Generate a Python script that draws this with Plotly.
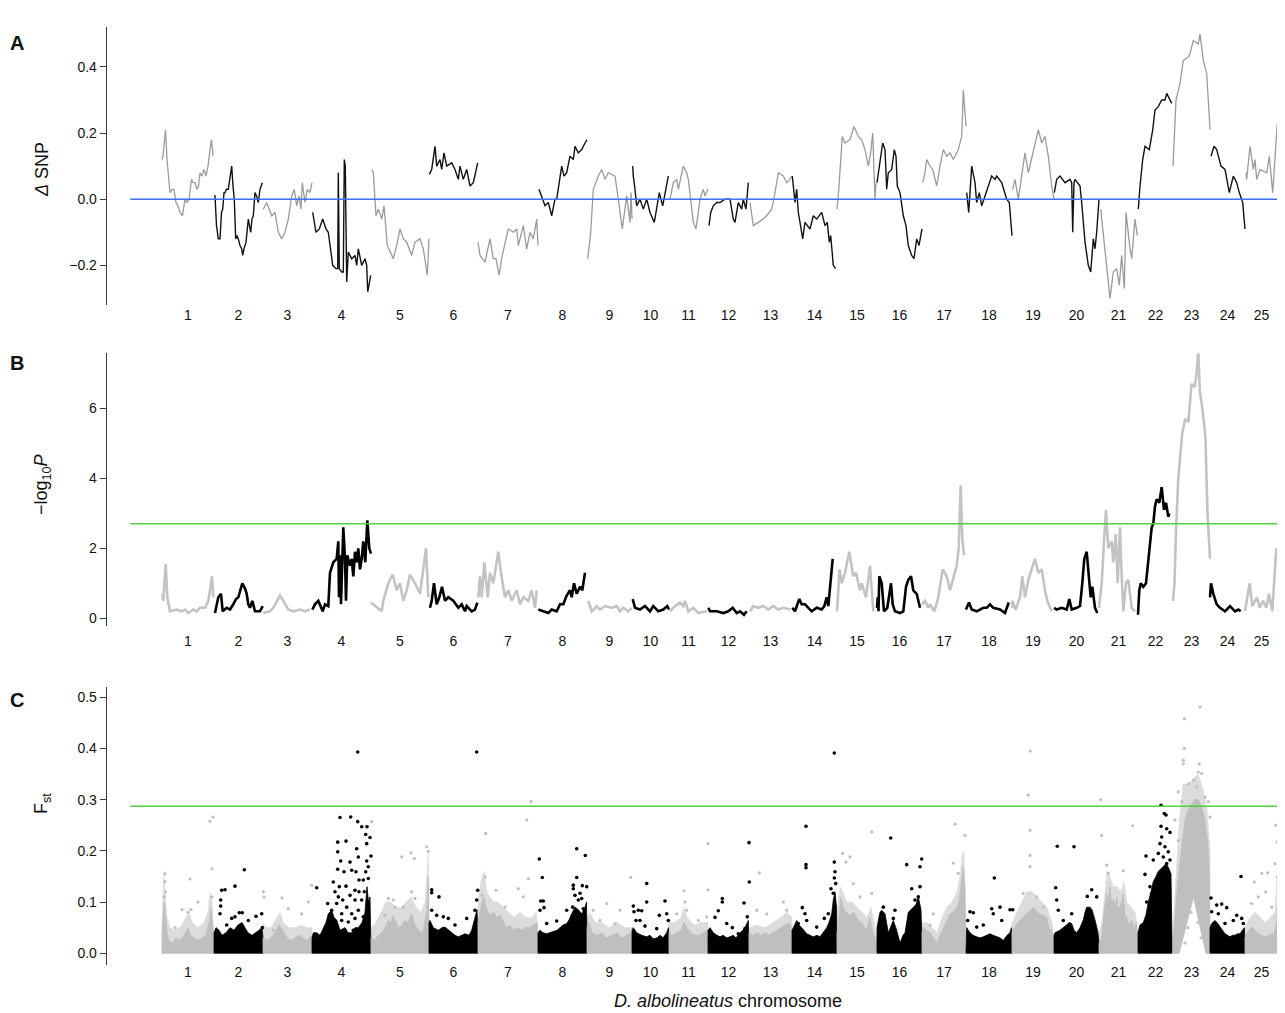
import plotly.graph_objects as go

FONT = "Liberation Sans, Arial, Helvetica, sans-serif"

# ---------------- data ----------------
chrom_labels = [str(i) for i in range(1, 26)]
chrom_len = [52, 49, 49, 59, 58, 49, 60, 49, 45, 37, 39, 41, 43, 45, 40, 45, 44, 46, 42, 45, 39, 35, 37, 35, 33]

# Panel A: delta SNP (position within chromosome, value)
dsnp_pos = [
    [0, 1, 3.5, 5, 8, 10, 12, 14, 16, 18, 20.5, 23, 25, 27, 29.5, 31, 33, 35, 36.5, 38, 40, 42, 44, 46, 48, 49.5, 51],
    [0, 1, 2.5, 4.3, 6, 7.5, 8.7, 10, 11, 12.5, 14.3, 16, 17.7, 19, 20.3, 21.7, 23, 24.3, 26, 27.7, 28.7, 30, 32, 34.3, 35.5, 36.7, 38, 39.3, 41, 42.5, 44.3, 46, 48.3],
    [0.3, 3.7, 8.7, 12, 15.3, 18.7, 22, 25.3, 28.7, 31.3, 33.7, 36, 38, 39.3, 42, 44.3, 47, 49],
    [0.7, 4, 7.3, 10.7, 14, 16.3, 20.7, 24, 25.7, 26.3, 27.3, 29.7, 31.3, 32.3, 33.3, 34.7, 36.3, 39.7, 43, 44.7, 46.3, 49.7, 53, 54.7, 55.7, 58.7],
    [0.7, 2.3, 5, 7.3, 10.7, 13, 16.3, 19, 22.3, 25.7, 29, 32.3, 35.7, 40.7, 44, 49, 52.3, 56.3, 58],
    [0.3, 2.7, 6, 7.7, 11, 12.7, 15, 17.7, 22.7, 26, 29.3, 31, 34.3, 37.7, 41, 44.3, 48.7],
    [0, 2, 7, 12, 15.3, 18, 21, 24.3, 28, 30.3, 35.3, 38.7, 40.3, 45.3, 48.7, 52, 55.3, 58.7, 60],
    [1, 3.7, 7, 10.3, 13.7, 17, 18.7, 23.7, 26, 28.7, 32, 35.3, 37, 40.3, 43.7, 47, 49],
    [0.7, 3.7, 6.3, 11.3, 14.7, 18, 21.3, 28, 31.3, 35.3, 39.7, 43, 44, 45],
    [0.7, 1.3, 3, 4.7, 8, 11.3, 14.7, 18, 22.3, 25.3, 27.3, 30.7, 33, 36.3],
    [1, 4.3, 7.7, 9.3, 14.3, 17.7, 19.3, 21.7, 24.3, 27, 31, 34.3, 36, 39],
    [1, 2.7, 5.3, 8.7, 12, 17, 22, 25.3, 27, 30.3, 33.7, 35.3, 38, 40.3],
    [1, 4.3, 9.3, 14.3, 17.7, 22.7, 26, 29.3, 34.3, 37.7, 41, 42.7],
    [0.3, 3, 4.7, 6.3, 8, 10.7, 13, 18, 21.3, 24.7, 29.7, 33, 35.3, 37.3, 38.7, 41.3, 43.7],
    [0, 1.3, 5.3, 8, 13, 17, 21.3, 24.7, 28, 31.3, 33.7, 35.7, 38, 39],
    [0, 2.3, 3.7, 5.7, 8, 9.7, 11.3, 14.7, 17.3, 19, 20.3, 23, 26.3, 29, 31.3, 34.7, 37, 39.7, 42, 45],
    [0.7, 3, 4.7, 8, 10.7, 14.7, 18, 21.3, 24.7, 28, 31.3, 36.3, 39.7, 41.3, 44],
    [0.7, 2.7, 5.7, 9, 10.7, 13.3, 15.7, 19, 22.3, 25.7, 29, 30.7, 35.7, 40.7, 43.3, 46],
    [0.7, 3, 6.3, 9.7, 13, 16.3, 23, 26.3, 29.7, 33, 36.3, 39.7, 42],
    [0.3, 2.7, 6, 11, 16, 17.7, 18.7, 20, 21, 26, 27.7, 31, 34.3, 36.7, 39.3, 41, 42.7, 45],
    [1.7, 4.3, 7.7, 11, 14.3, 17.7, 20.3, 22.7, 25.3, 27, 31, 32.7, 36, 38.3],
    [0.3, 2, 4.7, 7, 11.3, 14.7, 17, 20.3, 23.7, 27, 28.7, 33.7],
    [0, 3, 7, 10.3, 15.3, 17, 20.3, 25.3, 27, 30.3, 33.7, 37],
    [1, 4, 6.7, 11, 15, 19.3, 23.3, 26.7, 29.3, 32.7, 35],
    [1, 1.7, 5, 8.3, 10, 11.7, 15, 21.7, 24.3, 27.7, 32.3],
]
dsnp_val = [
    [0.12, 0.13, 0.21, 0.12, 0.02, 0.03, 0.03, -0.01, -0.02, -0.04, -0.05, 0.0, -0.01, 0.0, 0.06, 0.05, 0.05, 0.03, 0.04, 0.08, 0.07, 0.09, 0.07, 0.10, 0.15, 0.18, 0.13],
    [0.01, 0.01, -0.08, -0.12, -0.12, -0.04, -0.03, 0.02, 0.02, 0.03, 0.03, 0.06, 0.10, 0.04, 0.0, -0.12, -0.11, -0.12, -0.14, -0.15, -0.17, -0.15, -0.13, -0.06, -0.08, -0.10, -0.06, -0.05, 0.02, 0.01, -0.01, 0.03, 0.05],
    [-0.03, -0.01, -0.05, -0.04, -0.10, -0.12, -0.10, -0.06, 0.01, 0.03, -0.02, 0.01, -0.03, 0.05, -0.01, 0.03, 0.02, 0.05],
    [-0.04, -0.10, -0.09, -0.06, -0.09, -0.10, -0.20, -0.21, -0.21, 0.08, -0.21, -0.22, -0.22, 0.12, 0.10, -0.25, -0.16, -0.18, -0.17, -0.20, -0.15, -0.20, -0.18, -0.20, -0.28, -0.23],
    [0.09, 0.08, -0.05, -0.03, -0.06, -0.02, -0.14, -0.16, -0.18, -0.14, -0.09, -0.12, -0.13, -0.17, -0.13, -0.12, -0.15, -0.23, -0.12],
    [0.075, 0.09, 0.16, 0.10, 0.12, 0.09, 0.14, 0.10, 0.11, 0.09, 0.06, 0.10, 0.06, 0.09, 0.04, 0.05, 0.11],
    [-0.13, -0.17, -0.19, -0.12, -0.18, -0.18, -0.23, -0.17, -0.12, -0.09, -0.10, -0.09, -0.14, -0.08, -0.15, -0.10, -0.12, -0.06, -0.14],
    [0.03, 0.01, -0.02, -0.01, -0.05, 0.0, 0.0, 0.10, 0.07, 0.08, 0.13, 0.12, 0.16, 0.14, 0.15, 0.17, 0.18],
    [-0.18, -0.10, 0.03, 0.07, 0.09, 0.06, 0.08, 0.07, 0.0, -0.09, 0.01, -0.07, 0.02, -0.06],
    [0.10, 0.07, 0.03, -0.02, 0.0, -0.03, 0.0, -0.04, -0.07, -0.02, 0.02, -0.02, 0.02, 0.07],
    [0.0, 0.05, 0.06, 0.03, 0.10, 0.08, 0.06, 0.0, -0.07, -0.09, 0.0, 0.03, 0.01, 0.03],
    [-0.08, -0.04, -0.02, -0.01, -0.01, 0.0, 0.0, -0.06, -0.07, -0.01, -0.03, 0.0, -0.03, 0.05],
    [-0.01, -0.08, -0.07, -0.06, -0.05, -0.03, 0.02, 0.08, 0.07, 0.05, 0.06, 0.07],
    [0.07, -0.01, 0.03, -0.04, -0.07, -0.12, -0.07, -0.09, -0.05, -0.06, -0.04, -0.08, -0.07, -0.13, -0.11, -0.20, -0.21],
    [-0.03, 0.01, 0.19, 0.17, 0.18, 0.22, 0.19, 0.18, 0.15, 0.10, 0.14, 0.20, 0.0, 0.05],
    [0.05, 0.10, 0.12, 0.17, 0.15, 0.03, 0.08, 0.09, 0.15, 0.13, 0.04, 0.02, -0.05, -0.08, -0.14, -0.17, -0.18, -0.12, -0.14, -0.09],
    [0.05, 0.08, 0.12, 0.10, 0.09, 0.04, 0.10, 0.15, 0.13, 0.14, 0.12, 0.15, 0.19, 0.33, 0.22],
    [0.02, -0.04, 0.10, 0.05, -0.01, 0.02, -0.02, 0.01, 0.04, 0.07, 0.06, 0.07, 0.05, 0.0, -0.01, -0.11],
    [0.03, 0.06, 0.0, 0.07, 0.14, 0.08, 0.17, 0.21, 0.17, 0.19, 0.13, 0.04, 0.0],
    [0.02, 0.06, 0.07, 0.05, 0.06, 0.05, -0.10, 0.05, 0.06, 0.04, -0.01, -0.13, -0.20, -0.22, -0.12, -0.15, -0.10, 0.0],
    [-0.03, -0.10, -0.20, -0.30, -0.22, -0.21, -0.26, -0.17, -0.27, -0.04, -0.15, -0.18, -0.06, -0.11],
    [-0.03, 0.04, 0.12, 0.16, 0.15, 0.21, 0.27, 0.28, 0.30, 0.30, 0.32, 0.29],
    [0.10, 0.30, 0.35, 0.42, 0.43, 0.44, 0.48, 0.47, 0.50, 0.42, 0.38, 0.21],
    [0.13, 0.16, 0.15, 0.10, 0.09, 0.02, 0.07, 0.05, 0.02, -0.01, -0.09],
    [0.08, 0.06, 0.16, 0.09, 0.12, 0.06, 0.09, 0.08, 0.13, 0.02, 0.23],
]

# Panel B: -log10 P
logp_pos = [
    [0.3, 1.3, 3.7, 5.3, 8, 14.7, 19.7, 23, 26.3, 31.3, 34.7, 38, 43, 46.3, 48, 50, 51.3],
    [1, 2.7, 4.3, 7, 8.7, 12.7, 16, 19.3, 22, 24.3, 28.3, 31, 32.7, 34.3, 36, 38.3, 41, 46, 48.7],
    [0.3, 7, 10.3, 17, 20.3, 25.3, 30.3, 37, 42, 47],
    [0.3, 3, 6.3, 8.7, 10.7, 13, 16.3, 18, 21.3, 24.7, 26.3, 27, 28, 29, 30.3, 31.3, 33, 34, 35.3, 38, 39.7, 41.3, 43, 44.7, 46.3, 48, 49.7, 51.3, 53.3, 55.3, 57.3, 59],
    [0, 4, 10.7, 12.3, 17.3, 21.7, 25.7, 29, 32.3, 35.7, 39, 44, 49, 55, 57.3],
    [1, 2.7, 5, 7.7, 10.3, 13, 16, 19.3, 24.3, 29.3, 32.7, 36, 37.7, 42.7, 46, 48.3],
    [0.3, 2, 3.7, 6.3, 9.7, 12, 15.3, 20.3, 23, 27, 30.3, 33.7, 38.7, 42, 45.3, 50.3, 53.7, 57, 58.7],
    [0.3, 5.3, 10.3, 13.7, 18.7, 22, 25.3, 28.7, 32, 33.7, 36, 38.7, 42, 44.3, 47],
    [1.3, 4.7, 9.7, 13, 18, 24.7, 29.7, 33, 36.3, 41.3, 44.7],
    [0.7, 3, 8, 13, 18, 21.3, 26.3, 31.3, 35.3, 37],
    [1, 4.3, 11, 14.3, 16, 19.3, 24.3, 29.3, 37.7],
    [0.3, 2, 8.7, 15.3, 20.3, 24.7, 28.7, 32, 36, 38.7],
    [1, 4.3, 9.3, 14.3, 19.3, 24.3, 29.3, 34.3, 41],
    [0.3, 3, 7.3, 9.7, 13, 16.3, 19.7, 24.7, 29.7, 32.3, 34.7, 36.3, 38.7, 40.7],
    [0, 1, 2.5, 4.7, 8, 12.3, 16.3, 19, 23, 24.7, 29, 33, 36.3],
    [0, 0.7, 1.5, 2.3, 4.7, 7, 10.3, 14, 15.7, 18, 23, 26.3, 29, 31.3, 34, 36.3, 39.7, 43],
    [0, 3, 6.3, 8, 12.3, 16.3, 20.7, 24.7, 28, 29.7, 34.7, 36.7, 38.7, 40.3, 42],
    [0, 0.7, 3, 5.7, 10.7, 17.3, 20.7, 24, 27.3, 34, 39, 42.7],
    [0, 0.3, 3.7, 8, 10.3, 13, 16.3, 19.7, 23, 26.3, 29.7, 33, 35.3, 39.7],
    [0, 2.7, 7.7, 12.7, 15.3, 17.7, 22.7, 26, 28.3, 30.3, 32.7, 35, 36.7, 38.3, 41, 43.3],
    [0, 2.7, 5, 7, 9.3, 12.7, 14.3, 16.7, 18.7, 21, 22.7, 24.3, 27, 29.3, 32.7, 36],
    [0, 0.5, 1.3, 2.7, 5.3, 8, 10.3, 12, 13.7, 15.3, 17, 18.7, 21.3, 23.7, 26, 28, 30.3, 31.3],
    [0, 1.5, 3, 5.3, 9.3, 12.3, 15.4, 18.5, 21.6, 23.1, 25.3, 26.8, 29.3, 32.4, 34.5, 37],
    [0, 1, 3.3, 6.7, 10, 15, 20, 25, 28.3, 30.7],
    [0, 2.3, 4.7, 7.3, 12, 14.7, 18, 21.3, 24, 27.3, 31.3],
]
logp_val = [
    [0.7, 0.5, 1.55, 0.6, 0.2, 0.25, 0.2, 0.25, 0.15, 0.25, 0.2, 0.3, 0.3, 0.5, 0.8, 1.2, 0.6],
    [0.15, 0.4, 0.6, 0.7, 0.2, 0.3, 0.25, 0.4, 0.55, 0.6, 1.0, 0.85, 0.7, 0.4, 0.3, 0.5, 0.2, 0.2, 0.35],
    [0.15, 0.2, 0.3, 0.65, 0.5, 0.25, 0.2, 0.25, 0.2, 0.25],
    [0.25, 0.4, 0.5, 0.35, 0.2, 0.4, 0.35, 1.3, 1.6, 1.7, 2.2, 0.6, 1.8, 0.4, 1.9, 2.6, 1.7, 0.5, 1.8, 1.5, 1.7, 1.2, 1.9, 1.6, 2.0, 1.4, 1.7, 2.2, 1.6, 2.8, 2.0, 1.85],
    [0.45, 0.35, 0.2, 0.5, 1.0, 1.25, 0.8, 1.0, 0.5, 0.8, 1.25, 1.0, 0.7, 2.0, 0.6],
    [0.3, 0.5, 1.0, 0.4, 0.6, 0.9, 0.5, 0.6, 0.5, 0.3, 0.4, 0.2, 0.35, 0.2, 0.25, 0.45],
    [0.6, 1.2, 0.6, 1.6, 0.6, 1.3, 1.0, 1.9, 1.3, 0.6, 0.8, 0.5, 0.8, 0.4, 0.6, 0.5, 0.8, 0.3, 0.8],
    [0.25, 0.2, 0.15, 0.25, 0.2, 0.4, 0.4, 0.65, 0.8, 0.6, 1.0, 0.7, 0.9, 0.8, 1.3],
    [0.5, 0.2, 0.35, 0.25, 0.35, 0.3, 0.35, 0.2, 0.3, 0.2, 0.3],
    [0.55, 0.3, 0.25, 0.35, 0.2, 0.35, 0.2, 0.25, 0.35, 0.25],
    [0.2, 0.3, 0.45, 0.35, 0.5, 0.2, 0.3, 0.15, 0.2],
    [0.3, 0.2, 0.2, 0.15, 0.2, 0.3, 0.15, 0.2, 0.1, 0.2],
    [0.2, 0.35, 0.3, 0.35, 0.25, 0.35, 0.25, 0.3, 0.25],
    [0.3, 0.2, 0.55, 0.4, 0.4, 0.3, 0.2, 0.3, 0.25, 0.35, 0.6, 0.35, 1.2, 1.7],
    [0.2, 0.6, 1.4, 1.0, 1.3, 1.9, 1.2, 1.3, 0.8, 1.0, 0.6, 1.5, 0.2],
    [0.3, 0.6, 0.2, 1.2, 1.0, 0.2, 0.3, 1.0, 0.4, 0.2, 0.15, 0.2, 0.9, 1.1, 1.2, 0.8, 0.7, 0.3],
    [0.4, 0.5, 0.3, 0.4, 0.2, 0.6, 1.4, 1.2, 0.8, 1.0, 1.5, 2.0, 3.8, 2.3, 1.8],
    [0.25, 0.3, 0.45, 0.25, 0.2, 0.3, 0.3, 0.4, 0.3, 0.25, 0.15, 0.45],
    [0.3, 0.5, 0.25, 0.6, 1.2, 0.6, 1.1, 1.4, 1.7, 1.3, 1.4, 0.8, 0.5, 0.2],
    [0.3, 0.25, 0.3, 0.25, 0.55, 0.25, 0.3, 0.35, 1.0, 1.7, 1.9, 1.2, 0.6, 0.9, 0.3, 0.15],
    [0.3, 1.0, 2.2, 3.1, 2.0, 2.2, 1.6, 2.4, 1.0, 2.6, 1.2, 0.2, 1.0, 1.1, 0.3, 0.2],
    [0.1, 0.3, 0.8, 1.0, 0.9, 1.0, 1.7, 2.1, 2.6, 2.7, 3.2, 3.4, 3.3, 3.75, 3.1, 3.3, 2.9, 3.0],
    [0.5, 1.0, 2.5, 4.0, 5.3, 5.7, 5.6, 6.7, 6.6, 6.9, 7.6, 6.5, 6.0, 5.2, 3.0, 1.7],
    [0.6, 1.0, 0.7, 0.4, 0.3, 0.2, 0.35, 0.2, 0.25, 0.2],
    [0.2, 0.6, 1.0, 0.35, 0.6, 0.3, 0.5, 0.3, 0.7, 0.2, 2.0],
]

# Panel C: Fst - upper edge of the dense SNP cloud per chromosome
fst_core_pos = [
    [0, 1, 2, 3, 4, 5, 7, 10, 14, 18, 22, 26, 28, 32, 36, 40, 44, 47, 49, 51, 52],
    [0, 2, 5, 8, 12, 16, 20, 24, 28, 31, 34, 38, 42, 45, 48, 49],
    [0, 4, 8, 12, 16, 20, 24, 28, 32, 36, 40, 44, 48, 49],
    [0, 1.3, 4.7, 8, 11.3, 14, 16.3, 19.7, 22, 24.7, 28, 33, 36, 39.7, 43, 46.3, 50, 53, 55, 56.5, 58, 59],
    [0, 4, 7, 10.7, 14, 17.3, 20, 22.3, 25, 27.3, 31, 34, 37, 40.7, 43, 45.7, 48, 50.7, 53, 55.7, 56.5, 57.5, 58],
    [0, 1, 4.3, 9.3, 13, 16, 20, 22.7, 26, 29.3, 33, 36, 40, 42.7, 46, 48, 49],
    [0, 2, 4, 6, 8, 10, 13, 16, 19, 22, 25, 28, 32, 36, 40, 44, 48, 52, 56, 59, 60],
    [0, 2, 5, 8.7, 12, 15.3, 19, 22, 25, 28.7, 31, 33.7, 37, 40.3, 43.7, 47, 48.5, 49],
    [0, 2, 5, 10, 15, 20, 25, 30, 35, 40, 44, 45],
    [0, 1.3, 4.7, 9.7, 14.7, 18, 21.3, 25, 28, 31, 34.7, 36.5, 37],
    [0, 4, 8, 12, 15, 18, 22, 26, 30, 34, 38, 39],
    [0, 2, 5.3, 9, 12, 15, 18.7, 22, 25.3, 28, 32, 35, 37, 40.3, 41],
    [0, 4, 8, 12, 16, 20, 24, 28, 32, 36, 40, 42, 43],
    [0, 1.3, 4.7, 7, 9.7, 14.7, 18, 21.3, 25, 28, 31, 34.7, 37, 39.7, 41.3, 43, 44.5, 45],
    [0, 2, 4, 6, 9, 13, 17, 21, 25, 29, 33, 36, 38, 40],
    [0, 1.3, 3, 4.7, 8, 11.3, 14, 16.3, 19.7, 23, 26, 28, 31.3, 34, 36.3, 39, 41.3, 44, 45],
    [0, 1.3, 4, 8, 11, 14.7, 18, 21.3, 25, 28, 31, 34.7, 37, 39.7, 41.3, 43, 44],
    [0, 0.7, 4, 7, 10.7, 14, 17.3, 21, 24, 27, 30.7, 34, 37.3, 41, 44, 45.5, 46],
    [0, 1.3, 4, 8, 11, 14.7, 18, 21.3, 25, 28, 31, 34.7, 37, 39.7, 41.5],
    [0, 1, 6, 9, 12.7, 15, 17.7, 20, 22.7, 26, 29.3, 31, 32.7, 36, 38, 41, 44, 45],
    [0, 2.7, 5, 7.7, 9, 11, 12.5, 14.3, 16, 17.7, 19, 21, 22.5, 24.3, 26, 27.7, 30, 32.7, 35, 37.7, 38.5],
    [0, 2, 5.3, 8, 10.3, 13, 15.3, 18, 20.3, 23, 25.3, 28, 30.3, 33, 34],
    [0, 1.7, 5, 8.7, 12, 15.3, 18.7, 22, 25.3, 28.7, 32, 34.7, 36.3, 37],
    [0, 1.7, 5, 7, 10, 12.5, 15, 17.5, 20, 22.5, 25, 27.5, 30, 32.5, 34.3, 35],
    [0, 1.7, 4, 6.7, 10, 13.3, 16.5, 20, 23.5, 26.7, 29.5, 31.7, 32.7, 33],
]
fst_core_top = [
    [0.03, 0.07, 0.10, 0.09, 0.06, 0.04, 0.025, 0.02, 0.03, 0.025, 0.035, 0.05, 0.035, 0.03, 0.025, 0.03, 0.035, 0.06, 0.09, 0.05, 0.02],
    [0.04, 0.05, 0.045, 0.035, 0.04, 0.05, 0.045, 0.055, 0.06, 0.05, 0.04, 0.035, 0.04, 0.045, 0.05, 0.03],
    [0.03, 0.025, 0.03, 0.04, 0.055, 0.045, 0.03, 0.025, 0.03, 0.035, 0.03, 0.025, 0.035, 0.03],
    [0.03, 0.04, 0.04, 0.035, 0.05, 0.06, 0.077, 0.084, 0.07, 0.065, 0.045, 0.05, 0.04, 0.04, 0.05, 0.05, 0.06, 0.08, 0.13, 0.10, 0.11, 0.03],
    [0.03, 0.025, 0.035, 0.04, 0.05, 0.064, 0.06, 0.074, 0.06, 0.05, 0.055, 0.064, 0.06, 0.077, 0.06, 0.05, 0.045, 0.04, 0.05, 0.084, 0.12, 0.15, 0.04],
    [0.06, 0.064, 0.05, 0.045, 0.05, 0.051, 0.045, 0.04, 0.035, 0.032, 0.035, 0.038, 0.035, 0.045, 0.07, 0.085, 0.03],
    [0.06, 0.08, 0.1, 0.11, 0.09, 0.08, 0.075, 0.08, 0.07, 0.075, 0.065, 0.05, 0.055, 0.045, 0.05, 0.045, 0.05, 0.05, 0.055, 0.06, 0.03],
    [0.04, 0.045, 0.04, 0.038, 0.04, 0.042, 0.045, 0.05, 0.055, 0.058, 0.065, 0.077, 0.09, 0.085, 0.077, 0.09, 0.1, 0.03],
    [0.05, 0.06, 0.04, 0.035, 0.04, 0.03, 0.035, 0.04, 0.03, 0.035, 0.04, 0.02],
    [0.045, 0.05, 0.04, 0.035, 0.032, 0.035, 0.028, 0.03, 0.035, 0.03, 0.04, 0.05, 0.02],
    [0.04, 0.035, 0.04, 0.045, 0.06, 0.05, 0.04, 0.035, 0.035, 0.04, 0.045, 0.02],
    [0.045, 0.05, 0.04, 0.035, 0.032, 0.035, 0.03, 0.032, 0.035, 0.03, 0.04, 0.045, 0.05, 0.064, 0.02],
    [0.04, 0.035, 0.04, 0.035, 0.04, 0.035, 0.04, 0.045, 0.05, 0.055, 0.06, 0.05, 0.02],
    [0.045, 0.05, 0.064, 0.055, 0.05, 0.038, 0.035, 0.032, 0.035, 0.032, 0.04, 0.05, 0.06, 0.077, 0.104, 0.12, 0.09, 0.02],
    [0.04, 0.07, 0.11, 0.09, 0.08, 0.075, 0.08, 0.065, 0.06, 0.045, 0.07, 0.04, 0.03, 0.02],
    [0.05, 0.064, 0.08, 0.084, 0.077, 0.04, 0.055, 0.064, 0.045, 0.02, 0.035, 0.04, 0.08, 0.085, 0.09, 0.095, 0.11, 0.085, 0.02],
    [0.04, 0.05, 0.045, 0.04, 0.03, 0.02, 0.035, 0.05, 0.065, 0.077, 0.08, 0.09, 0.1, 0.143, 0.17, 0.13, 0.02],
    [0.045, 0.05, 0.04, 0.035, 0.032, 0.03, 0.032, 0.035, 0.038, 0.035, 0.032, 0.03, 0.025, 0.035, 0.04, 0.05, 0.02],
    [0.04, 0.045, 0.055, 0.064, 0.07, 0.077, 0.085, 0.09, 0.08, 0.077, 0.075, 0.07, 0.05, 0.045, 0.02],
    [0.035, 0.04, 0.045, 0.05, 0.055, 0.06, 0.058, 0.045, 0.04, 0.05, 0.065, 0.08, 0.09, 0.09, 0.085, 0.065, 0.04, 0.02],
    [0.02, 0.03, 0.08, 0.117, 0.1, 0.13, 0.1, 0.105, 0.09, 0.11, 0.09, 0.09, 0.1, 0.115, 0.075, 0.07, 0.055, 0.065, 0.05, 0.06, 0.02],
    [0.04, 0.055, 0.06, 0.075, 0.1, 0.12, 0.14, 0.15, 0.16, 0.165, 0.17, 0.175, 0.168, 0.155, 0.02],
    [0.02, 0.064, 0.143, 0.208, 0.26, 0.28, 0.292, 0.3, 0.3, 0.286, 0.26, 0.22, 0.162, 0.02],
    [0.05, 0.058, 0.064, 0.06, 0.052, 0.045, 0.038, 0.035, 0.032, 0.035, 0.035, 0.038, 0.038, 0.045, 0.05, 0.02],
    [0.03, 0.038, 0.045, 0.051, 0.045, 0.038, 0.035, 0.032, 0.035, 0.038, 0.04, 0.064, 0.11, 0.02],
]
# Panel C: upper edge of the sparser speckled zone (grey chromosomes only)
fst_halo_pos = [
    [0, 1, 2, 3, 5, 8, 12, 18, 24, 27, 30, 36, 42, 46, 48, 50, 52],
    [],
    [0, 3, 8, 14, 17, 20, 26, 32, 38, 44, 49],
    [],
    [0, 5, 10, 15, 20, 25, 30, 35, 40, 45, 50, 54, 56, 57.5, 58],
    [],
    [0, 3, 6, 9, 12, 16, 20, 25, 30, 36, 42, 48, 54, 58, 60],
    [],
    [0, 3, 8, 15, 22, 30, 38, 45],
    [],
    [0, 6, 12, 15, 18, 25, 32, 39],
    [],
    [0, 8, 16, 24, 32, 38, 43],
    [],
    [0, 3, 6, 10, 15, 20, 25, 30, 34, 38, 40],
    [],
    [0, 5, 10, 15, 20, 25, 30, 35, 38, 40, 42, 44],
    [],
    [0, 5, 10, 15, 20, 25, 30, 35, 40, 42],
    [],
    [0, 3, 6, 8, 11, 14, 18, 22, 25, 28, 32, 36, 39],
    [],
    [0, 3, 6, 10, 15, 20, 25, 30, 34, 37],
    [],
    [0, 5, 10, 15, 20, 25, 30, 32, 33],
]
fst_halo_top = [
    [0.05, 0.12, 0.16, 0.12, 0.07, 0.05, 0.045, 0.05, 0.07, 0.08, 0.06, 0.05, 0.06, 0.08, 0.12, 0.1, 0.03],
    [],
    [0.06, 0.05, 0.05, 0.07, 0.08, 0.06, 0.05, 0.05, 0.055, 0.05, 0.05],
    [],
    [0.05, 0.06, 0.08, 0.1, 0.1, 0.09, 0.09, 0.1, 0.11, 0.09, 0.08, 0.1, 0.16, 0.2, 0.05],
    [],
    [0.1, 0.14, 0.16, 0.12, 0.11, 0.1, 0.1, 0.09, 0.08, 0.07, 0.08, 0.07, 0.07, 0.08, 0.05],
    [],
    [0.07, 0.08, 0.06, 0.06, 0.05, 0.06, 0.05, 0.05],
    [],
    [0.06, 0.06, 0.07, 0.09, 0.07, 0.055, 0.06, 0.06],
    [],
    [0.05, 0.055, 0.05, 0.06, 0.07, 0.08, 0.07],
    [],
    [0.08, 0.13, 0.12, 0.1, 0.1, 0.09, 0.08, 0.07, 0.09, 0.05, 0.03],
    [],
    [0.06, 0.06, 0.05, 0.04, 0.07, 0.09, 0.1, 0.12, 0.15, 0.19, 0.2, 0.04],
    [],
    [0.06, 0.08, 0.1, 0.12, 0.12, 0.11, 0.1, 0.09, 0.06, 0.03],
    [],
    [0.04, 0.06, 0.13, 0.16, 0.15, 0.13, 0.13, 0.12, 0.14, 0.1, 0.09, 0.08, 0.04],
    [],
    [0.05, 0.15, 0.25, 0.33, 0.33, 0.34, 0.35, 0.32, 0.28, 0.2],
    [],
    [0.05, 0.07, 0.08, 0.07, 0.06, 0.07, 0.08, 0.15, 0.05],
]
# empty V-shaped region at the base of chromosome 23's cloud
fst_gap_chrom = 23
fst_gap_pos = [33, 20.5, 6]
fst_gap_val = [0.0, 0.11, 0.0]

# Panel C: individual SNPs standing above the cloud
fst_out_pos = [
    [3, 3, 3.5, 2.5, 28, 26, 29, 20, 13, 48, 51, 50, 50, 36],
    [7.7, 11, 21, 30.3, 6.7, 6.7, 6, 17.7, 25.3, 28.3, 42, 47.7, 48.3, 21, 12.7, 34.3],
    [0.3, 1, 19, 25.3, 38.7, 45.3, 48.7, 10.3],
    [28, 38.7, 45.7, 49.7, 55, 53.7, 58, 25.7, 34, 25.7, 44.7, 54.7, 59, 28.7, 38, 46.3, 54.7, 25.7, 32, 39.7, 44, 53.7, 56.3, 47, 51.3, 56.3, 21.3, 4.7, 27.3, 34, 43, 23, 26.3, 30.7, 38, 47, 52.3, 24.7, 34.7, 43, 49.7, 15.7, 19.7, 29.7, 39.7, 46.3, 29.7, 36.3, 43, 51.3, 33, 41.3, 48, 45.7],
    [0.7, 30.7, 40, 43.3, 57.3, 55.7, 17.3, 22.3, 24, 14, 40.7, 44, 32.3],
    [2.7, 2.7, 10, 2.7, 14.3, 19.3, 37.7, 46, 47.7, 48.7, 26, 7.7, 47.7],
    [7.7, 7, 3.7, 18, 27, 40.3, 48.7, 53, 50.3, 45.3],
    [1.3, 4.3, 2.7, 5.3, 6, 2, 8.7, 18.7, 38.7, 47.3, 38.7, 35.3, 35.3, 44.3, 48.7, 37, 43.7, 42, 40.3, 45.3, 34.7, 28.7, 33.7, 40.3],
    [6.3, 19.7, 33, 43.7, 13, 28],
    [14.7, 14.7, 33, 1.3, 2, 6.3, 9.7, 13, 24.7, 27.3, 34.7, 36.3, 4, 8],
    [15, 16, 17.7, 7.7, 37.7, 29.3, 39, 39],
    [41, 41.3, 14.3, 14.3, 10.3, 7, 36, 39.3, 37, 18.7, 24.3, 30.3],
    [10.3, 7.7, 17.7, 34.3, 37.7],
    [14, 14, 14, 42.3, 43, 42.3, 43.7, 39, 41.3, 10.3, 13, 36.3, 32.3, 14.7, 6.3, 24.7, 42.3],
    [34.7, 13, 16.3, 23, 34.7, 5.7, 9],
    [13.7, 29.7, 44.7, 43, 34.7, 43, 6.3, 18, 16.3, 38, 41.3],
    [33, 43, 31.3, 36.3, 8, 11.3],
    [28.3, 4, 7.3, 1.7, 10.7, 25.7, 34, 44, 46.7, 27.3, 17.3, 35.7],
    [18.3, 16.3, 18, 18, 18, 11.3, 24.7, 31.3],
    [3.3, 20, 1.7, 2.7, 4.3, 37.7, 42.7, 33.3, 17.7, 9.3],
    [1.7, 7.7, 9.3, 24.3, 33.7, 2.7],
    [23, 26.3, 28, 23, 28.7, 32, 23.7, 22, 27, 30.3, 8, 7, 15.3, 20.3, 12, 8.7, 13.7, 25.3, 28.7, 32],
    [11.3, 10.3, 10.3, 26.3, 25.3, 28.7, 20.7, 15.7, 24, 5.3, 32, 8.7, 35.3, 37, 2, 5.3, 27, 11.3, 15, 18, 25, 28, 12],
    [31, 1, 6.7, 11.7, 16.7, 1.7, 8.3, 26.7, 31.7, 33.3, 23.3, 15],
    [30.7, 30, 32.3, 32.3, 9.3, 16.7, 22.7, 20.7, 13.3, 6.7, 26.7],
]
fst_out_val = [
    [0.155, 0.14, 0.12, 0.11, 0.145, 0.08, 0.085, 0.085, 0.05, 0.258, 0.266, 0.165, 0.11, 0.1],
    [0.123, 0.124, 0.131, 0.163, 0.104, 0.092, 0.077, 0.068, 0.079, 0.079, 0.072, 0.077, 0.05, 0.071, 0.055, 0.064],
    [0.12, 0.11, 0.108, 0.087, 0.077, 0.1, 0.133, 0.045],
    [0.265, 0.266, 0.257, 0.247, 0.247, 0.232, 0.226, 0.217, 0.219, 0.198, 0.204, 0.214, 0.19, 0.18, 0.178, 0.188, 0.18, 0.164, 0.159, 0.162, 0.159, 0.159, 0.169, 0.143, 0.143, 0.146, 0.139, 0.128, 0.13, 0.131, 0.123, 0.12, 0.11, 0.104, 0.113, 0.12, 0.12, 0.097, 0.09, 0.104, 0.104, 0.097, 0.084, 0.077, 0.077, 0.084, 0.064, 0.061, 0.068, 0.071, 0.045, 0.045, 0.042, 0.393],
    [0.257, 0.188, 0.196, 0.185, 0.199, 0.208, 0.107, 0.104, 0.09, 0.074, 0.12, 0.107, 0.09],
    [0.124, 0.118, 0.11, 0.084, 0.071, 0.068, 0.068, 0.084, 0.104, 0.123, 0.055, 0.074, 0.393],
    [0.234, 0.149, 0.113, 0.123, 0.09, 0.126, 0.26, 0.296, 0.146, 0.11],
    [0.184, 0.148, 0.102, 0.102, 0.089, 0.084, 0.058, 0.063, 0.204, 0.191, 0.148, 0.133, 0.126, 0.132, 0.13, 0.113, 0.107, 0.117, 0.104, 0.087, 0.09, 0.084, 0.071, 0.074],
    [0.084, 0.097, 0.084, 0.148, 0.064, 0.058],
    [0.136, 0.1, 0.102, 0.092, 0.081, 0.084, 0.083, 0.053, 0.048, 0.074, 0.077, 0.064, 0.064, 0.064],
    [0.122, 0.1, 0.084, 0.077, 0.071, 0.064, 0.214, 0.124],
    [0.216, 0.139, 0.107, 0.1, 0.083, 0.07, 0.098, 0.071, 0.048, 0.058, 0.05, 0.038],
    [0.157, 0.084, 0.077, 0.1, 0.084],
    [0.248, 0.173, 0.167, 0.178, 0.159, 0.147, 0.136, 0.126, 0.117, 0.089, 0.077, 0.077, 0.068, 0.064, 0.058, 0.051, 0.391],
    [0.237, 0.188, 0.136, 0.11, 0.117, 0.195, 0.178],
    [0.225, 0.173, 0.184, 0.169, 0.126, 0.13, 0.09, 0.084, 0.068, 0.104, 0.11],
    [0.252, 0.23, 0.176, 0.156, 0.055, 0.077],
    [0.147, 0.081, 0.079, 0.064, 0.051, 0.087, 0.09, 0.085, 0.085, 0.077, 0.055, 0.064],
    [0.395, 0.309, 0.24, 0.191, 0.169, 0.117, 0.11, 0.09],
    [0.209, 0.208, 0.128, 0.104, 0.084, 0.124, 0.11, 0.111, 0.077, 0.064],
    [0.3, 0.172, 0.156, 0.161, 0.249, 0.23],
    [0.289, 0.273, 0.27, 0.248, 0.243, 0.236, 0.227, 0.214, 0.208, 0.198, 0.19, 0.154, 0.182, 0.195, 0.13, 0.1, 0.117, 0.188, 0.175, 0.182],
    [0.4, 0.377, 0.37, 0.37, 0.354, 0.351, 0.338, 0.331, 0.325, 0.315, 0.305, 0.296, 0.296, 0.266, 0.26, 0.22, 0.481, 0.458, 0.05, 0.08, 0.06, 0.03, 0.02],
    [0.15, 0.108, 0.094, 0.096, 0.089, 0.081, 0.077, 0.074, 0.068, 0.058, 0.064, 0.058],
    [0.25, 0.175, 0.217, 0.149, 0.139, 0.156, 0.157, 0.12, 0.11, 0.097, 0.09],
]

dsnp_ref = 0.0
logp_threshold = 2.7
fst_threshold = 0.287

# ---------------- geometry helpers ----------------
starts = []
acc = 0.0
for L in chrom_len:
    starts.append(acc)
    acc += L
genome_end = acc
mids = [s + L / 2.0 for s, L in zip(starts, chrom_len)]

GRAY_A, BLACK_A = "#9b9b9b", "#111111"
GRAY_B, BLACK_B = "#c3c3c3", "#000000"
GRAY_C, BLACK_C = "#bfbfbf", "#000000"
HALO_C = "#dcdcdc"

fig = go.Figure()

# Panel A
for i in range(25):
    black = (i % 2 == 1)
    fig.add_trace(go.Scatter(
        x=[starts[i] + p for p in dsnp_pos[i]], y=dsnp_val[i], mode="lines",
        line=dict(color=BLACK_A if black else GRAY_A, width=1.4 if black else 1.3),
        xaxis="x", yaxis="y", hoverinfo="skip", showlegend=False))

# Panel B
for i in range(25):
    black = (i % 2 == 1)
    fig.add_trace(go.Scatter(
        x=[starts[i] + p for p in logp_pos[i]], y=logp_val[i], mode="lines",
        line=dict(color=BLACK_B if black else GRAY_B, width=2.6),
        xaxis="x2", yaxis="y2", hoverinfo="skip", showlegend=False))


def cloud_polygon(i, pos, top):
    xs = [starts[i] + p for p in pos]
    px = [xs[0]] + xs + [xs[-1]]
    py = [0.0] + list(top) + [0.0]
    if i + 1 == fst_gap_chrom:
        px += [starts[i] + p for p in fst_gap_pos]
        py += list(fst_gap_val)
    px.append(xs[0])
    py.append(0.0)
    return px, py


# Panel C: speckled zones (grey chromosomes)
for i in range(25):
    if not fst_halo_pos[i]:
        continue
    px, py = cloud_polygon(i, fst_halo_pos[i], fst_halo_top[i])
    fig.add_trace(go.Scatter(
        x=px, y=py, mode="lines", fill="toself", fillcolor=HALO_C,
        line=dict(color=HALO_C, width=0.6),
        xaxis="x3", yaxis="y3", hoverinfo="skip", showlegend=False))

# Panel C: dense clouds
for i in range(25):
    black = (i % 2 == 1)
    px, py = cloud_polygon(i, fst_core_pos[i], fst_core_top[i])
    col = BLACK_C if black else GRAY_C
    fig.add_trace(go.Scatter(
        x=px, y=py, mode="lines", fill="toself", fillcolor=col,
        line=dict(color=col, width=0.8),
        xaxis="x3", yaxis="y3", hoverinfo="skip", showlegend=False))

# Panel C: individual points
for parity, col, size in ((0, GRAY_C, 3.2), (1, BLACK_C, 3.6)):
    ox, oy = [], []
    for i in range(25):
        if i % 2 != parity:
            continue
        ox += [starts[i] + p for p in fst_out_pos[i]]
        oy += fst_out_val[i]
    fig.add_trace(go.Scatter(
        x=ox, y=oy, mode="markers",
        marker=dict(color=col, size=size, line=dict(width=0)),
        xaxis="x3", yaxis="y3", hoverinfo="skip", showlegend=False))

# reference lines
line_start = 0.02
fig.add_shape(type="line", xref="x domain", yref="y", x0=line_start, x1=1,
              y0=dsnp_ref, y1=dsnp_ref, line=dict(color="#3f6ff0", width=1.6))
fig.add_shape(type="line", xref="x2 domain", yref="y2", x0=line_start, x1=1,
              y0=logp_threshold, y1=logp_threshold, line=dict(color="#4fd23c", width=1.6))
fig.add_shape(type="line", xref="x3 domain", yref="y3", x0=line_start, x1=1,
              y0=fst_threshold, y1=fst_threshold, line=dict(color="#4fd23c", width=1.6))

# ---------------- layout ----------------
# the page body has an 8px margin; the figure is sized so that it fills the window exactly
OFF = 8.0
FW, FH = 1285 - OFF, 1013 - OFF

def fx(px):
    return (px - OFF) / FW

def fy(py):
    return 1 - (py - OFF) / FH

x_dom = [fx(106.7), 1.0]
x_range = [-55.3, genome_end + 7]

def xaxis(pos):
    return dict(domain=x_dom, range=x_range, tickmode="array", tickvals=mids,
                ticktext=chrom_labels, showline=False, ticks="", showgrid=False,
                zeroline=False, anchor="free", position=pos,
                tickfont=dict(size=14, color="#111111", family=FONT))

def yaxis(dom, rng, tv, fmt, anchor):
    return dict(domain=dom, range=rng, tickmode="array", tickvals=tv, tickformat=fmt,
                showline=True, linecolor="#3a3a3a", linewidth=1, ticks="outside",
                ticklen=6, tickcolor="#3a3a3a", tickwidth=1, showgrid=False,
                zeroline=False, anchor=anchor,
                tickfont=dict(size=14, color="#111111", family=FONT))

fig.update_layout(
    width=FW, height=FH,
    margin=dict(l=0, r=0, t=0, b=0),
    paper_bgcolor="white", plot_bgcolor="white",
    font=dict(family=FONT, color="#111111"),
    showlegend=False,
    xaxis=xaxis(fy(305)),
    xaxis2=xaxis(fy(631)),
    xaxis3=xaxis(fy(962)),
    yaxis=yaxis([fy(305), fy(27.3)], [-0.32, 0.52], [-0.2, 0.0, 0.2, 0.4], ".1f", "x"),
    yaxis2=yaxis([fy(626), fy(353.3)], [-0.22, 7.57], [0, 2, 4, 6], "d", "x2"),
    yaxis3=yaxis([fy(965), fy(687)], [-0.023, 0.52], [0, 0.1, 0.2, 0.3, 0.4, 0.5], ".1f", "x3"),
)

ann = []
for letter, ypx in (("A", 43), ("B", 363), ("C", 700)):
    ann.append(dict(text="<b>%s</b>" % letter, x=fx(17), y=fy(ypx), xref="paper", yref="paper",
                    showarrow=False, xanchor="center", yanchor="middle",
                    font=dict(size=20, family=FONT, color="#111")))
for txt, ypx in (("<i>Δ</i> SNP", 170), ("−log<sub>10</sub><i>P</i>", 485), ("F<sub>st</sub>", 804)):
    ann.append(dict(text=txt, x=fx(42), y=fy(ypx), xref="paper", yref="paper",
                    showarrow=False, xanchor="center", yanchor="middle", textangle=-90,
                    font=dict(size=18, family=FONT, color="#111")))
ann.append(dict(text="<i>D. albolineatus</i> chromosome", x=fx(728), y=fy(1001),
                xref="paper", yref="paper", showarrow=False, xanchor="center", yanchor="middle",
                font=dict(size=18, family=FONT, color="#111")))
fig.update_layout(annotations=ann)

fig.write_html("out.html")
